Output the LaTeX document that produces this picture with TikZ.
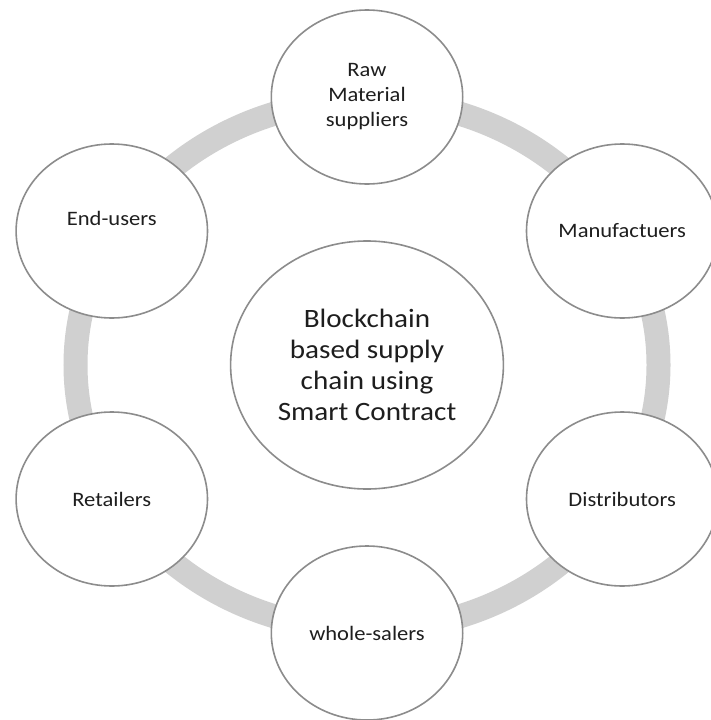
\documentclass[tikz,border=0pt]{standalone}
\usepackage{fontspec}
\setmainfont{Carlito}
\definecolor{ringgrey}{HTML}{D0D0D0}
\definecolor{nodegrey}{HTML}{8C8C8C}
\definecolor{textc}{HTML}{1E1E1E}
\tikzset{
  stage/.style={circle, draw=nodegrey, line width=1.6pt, fill=white,
    minimum size=174pt, inner sep=0pt, align=center, text=textc,
    font=\fontsize{20.5}{25}\selectfont},
  hub/.style={stage, minimum size=248pt, font=\fontsize{26.5}{31}\selectfont},
  ringline/.style={draw=ringgrey, line width=24pt}
}
\begin{document}
\begin{tikzpicture}[x=1pt,y=-1pt]
\fill[white] (0,0) rectangle (710,720);
\useasboundingbox (0,0) rectangle (710,720);
\begin{scope}[shift={(367,365)}, xscale=1.1, every node/.style={transform shape}]
  \draw[ringline] (0,0) circle[radius=265pt];
  \node[hub] (hub) at (0,0) {Blockchain\\based supply\\chain using\\Smart Contract};
  \node[stage] (raw) at (0,-268) {Raw\\Material\\suppliers};
  \node[stage] (man) at (232,-134) {Manufactuers};
  \node[stage] (dis) at (232,134) {Distributors};
  \node[stage] (who) at (0,268) {whole-salers};
  \node[stage] (ret) at (-232,134) {Retailers};
  \node[stage] (end) at (-232,-134) {\raisebox{6pt}[0pt][0pt]{End-users}};
\end{scope}
\end{tikzpicture}
\end{document}
